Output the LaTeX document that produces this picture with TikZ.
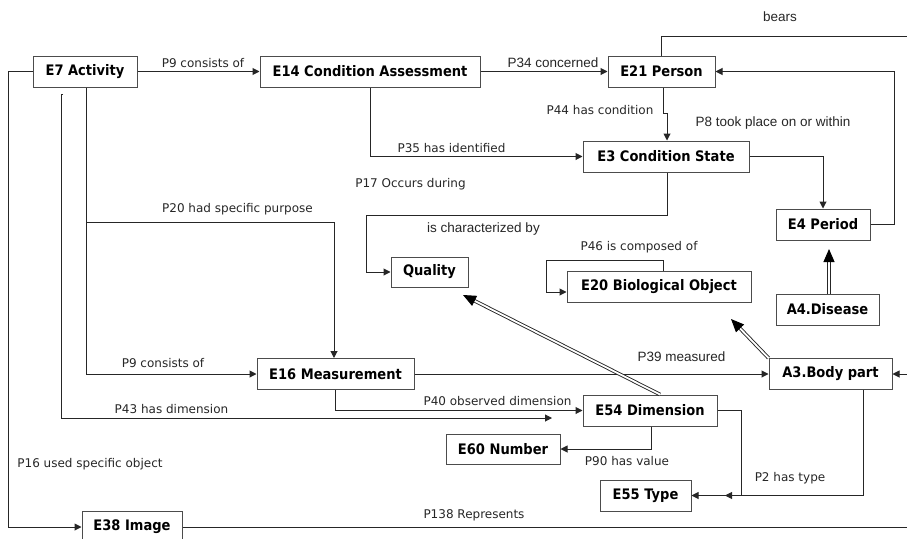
\documentclass[tikz,border=0pt]{standalone}
\usepackage{fontspec}
\setmainfont{DejaVu Sans}
\newfontfamily\boxfont{DejaVu Sans}[FakeStretch=0.9]
\newfontfamily\arialfont{Liberation Sans}
\usetikzlibrary{arrows.meta,calc}

\tikzset{
  ent/.style={draw=black!70, line width=1pt, fill=white, minimum height=31pt,
    inner sep=0pt, text=black, font=\boxfont\bfseries\fontsize{14.5}{17}\selectfont},
  lbl/.style={anchor=base, inner sep=0pt, text=black!85, font=\fontsize{12}{14}\selectfont},
  lbla/.style={anchor=base, inner sep=0pt, text=black!85, font=\arialfont\fontsize{13.5}{16}\selectfont},
  conn/.style={line width=1pt, draw=black!85},
  arr/.style={-{Triangle[length=7pt,width=7pt]}},
  dbl/.style={draw=black!85, double=white, double distance=1.8pt, line width=0.9pt},
  bigtip/.style={draw=black, fill=black, line width=1pt, -{Triangle[length=13pt,width=11pt]}}
}

\begin{document}
\begin{tikzpicture}[x=1pt, y=-1pt]
\useasboundingbox (0,0) rectangle (907,538);
\clip (0,0) rectangle (907,538);

% entity boxes
\node[ent, minimum width=104pt] (e7)  at (85,71.5)    {E7 Activity};
\node[ent, minimum width=220pt] (e14) at (370,71.5)   {E14 Condition Assessment};
\node[ent, minimum width=107pt] (e21) at (661.5,71.5) {E21 Person};
\node[ent, minimum width=166pt] (e3)  at (666,156.5)  {E3 Condition State};
\node[ent, minimum width=94pt]  (e4)  at (823,224.5)  {E4 Period};
\node[ent, minimum width=103pt] (a4)  at (827.5,309.5) {A4.Disease};
\node[ent, minimum width=184pt] (e20) at (659,286.5)  {E20 Biological Object};
\node[ent, minimum width=77pt, minimum height=30pt] (q) at (429.5,272) {Quality};
\node[ent, minimum width=157pt] (e16) at (335.5,374)  {E16 Measurement};
\node[ent, minimum width=123pt] (a3)  at (830.5,374)  {A3.Body part};
\node[ent, minimum width=134pt] (e54) at (650,410.5)  {E54 Dimension};
\node[ent, minimum width=114pt, minimum height=30pt] (e60) at (503,449) {E60 Number};
\node[ent, minimum width=91pt]  (e55) at (645.5,495.5) {E55 Type};
\node[ent, minimum width=100pt] (e38) at (132,527)    {E38 Image};

% helper points for routed connectors
\coordinate (rx)  at (894,0);
\coordinate (lx)  at (8,0);
\coordinate (kx)  at (741,0);
\coordinate (p20) at (334,222);
\coordinate (t43) at (61,94);
\coordinate (c43) at (552,418);
\coordinate (c2)  at (725,495.5);

% connectors
\draw[conn,arr] (e7.east) -- (e14.west);
\draw[conn,arr] (e14.east) -- (e21.west);
\draw[conn,arr] ([xshift=1.5pt]e21.south) -- ++(0,26) -- ++(4,0) -- ([xshift=1pt]e3.north);
\draw[conn,arr] (e14.south) |- (e3.west);
\draw[conn,arr] (e3.east) -| (e4.north);
\draw[conn,arr] (e4.east) -| (rx |- e21.east) -- (e21.east);
\draw[conn,arr] ([xshift=-0.5pt]e21.north) |- (930,36) |- (a3.east);
\draw[conn,arr] ([xshift=1pt]e3.south) |- (366,215) |- (q.west);
\draw[conn,arr] ([xshift=4pt]e20.north) |- (546,260) |- ([yshift=-5.5pt]e20.west);
\draw[conn,arr] ([xshift=1pt]e7.south) |- (p20) -- (p20 |- e16.north);
\draw[conn,arr] ([xshift=1pt]e7.south) |- (e16.west);
\draw[conn,arr] ([xshift=2pt]t43) -- (t43) |- (c43);
\draw[conn,arr] (e16.south) |- (e54.west);
\draw[conn,arr] (e16.east) -- (a3.west);
\draw[conn,arr] ([xshift=1pt]e54.south) |- (e60.east);
\draw[conn,arr] (e54.east) -| (kx |- e55.east) -- (e55.east);
\draw[conn,arr] ([xshift=32.5pt]a3.south) |- (c2);
\draw[conn,arr] (e7.west) -| (lx |- e38.west) -- (e38.west);
\draw[conn] (e38.east) -- (930,527);

% double-lined implication arrows
\coordinate (qtip)  at (463,295);
\coordinate (btip)  at (731,319);
\coordinate (ptip)  at (829,249);
\coordinate (ztail) at ([xshift=10pt]e54.north);
\coordinate (atail) at ([xshift=-62pt]a3.north);
\coordinate (dtail) at ([xshift=1.5pt]a4.north);
\draw[dbl] (ztail) -- ($(qtip)!11pt!(ztail)$);
\draw[bigtip] ($(qtip)!12pt!(ztail)$) -- (qtip);
\draw[dbl] (atail) -- ($(btip)!11pt!(atail)$);
\draw[bigtip] ($(btip)!12pt!(atail)$) -- (btip);
\draw[dbl] (dtail) -- ($(ptip)!11pt!(dtail)$);
\draw[bigtip] ($(ptip)!12pt!(dtail)$) -- (ptip);

% connector labels
\node[lbl]  (l1)  at (203,67)    {P9 consists of};
\node[lbla] (l2)  at (553,67)    {P34 concerned};
\node[lbla] (l3)  at (780,21.5)  {bears};
\node[lbl]  (l4)  at (600,114)   {P44 has condition};
\node[lbla] (l5)  at (773,126)   {P8 took place on or within};
\node[lbl]  (l6)  at (451.5,152) {P35 has identified};
\node[lbl]  (l7)  at (410.5,187) {P17 Occurs during};
\node[lbla] (l8)  at (483.5,232) {is characterized by};
\node[lbl]  (l9)  at (237.5,212) {P20 had specific purpose};
\node[lbl]  (l10) at (639,250)   {P46 is composed of};
\node[lbl]  (l11) at (163,367)   {P9 consists of};
\node[lbla] (l12) at (681.5,361) {P39 measured};
\node[lbl]  (l13) at (171.5,413) {P43 has dimension};
\node[lbl]  (l14) at (497.5,405.5) {P40 observed dimension};
\node[lbl]  (l15) at (90,467)    {P16 used specific object};
\node[lbl]  (l16) at (627,465)   {P90 has value};
\node[lbl]  (l17) at (790,481)   {P2 has type};
\node[lbl]  (l18) at (474,518)   {P138 Represents};
\end{tikzpicture}
\end{document}
